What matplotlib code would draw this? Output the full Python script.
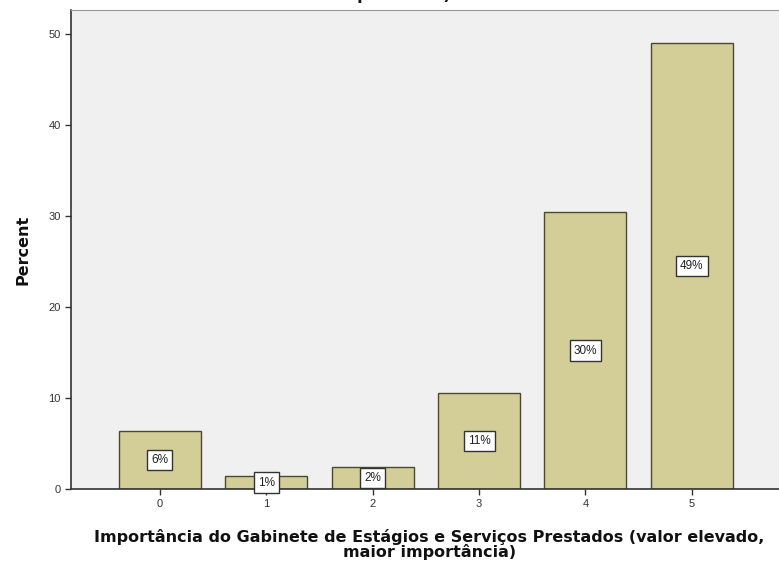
import matplotlib
matplotlib.use("Agg")
import matplotlib.pyplot as plt

categories = ["0", "1", "2", "3", "4", "5"]
percents = [6.4, 1.4, 2.4, 10.5, 30.4, 49.0]
labels = ["6%", "1%", "2%", "11%", "30%", "49%"]
yticks = [0, 10, 20, 30, 40, 50]

plt.rcParams['font.family'] = ['Liberation Sans', 'DejaVu Sans']
bold_family = ['DejaVu Sans']

fig = plt.figure(figsize=(7.79, 5.64), dpi=100)
ax = fig.add_axes([0.0911, 0.133, 0.92, 0.849])
ax.set_facecolor('#F0F0F0')
x = list(range(len(categories)))
ax.bar(x, percents, width=0.77, color='#D3CE97', edgecolor='#4a4a30', linewidth=1.0, zorder=2)
for xi, p, lab in zip(x, percents, labels):
    ax.text(xi, p / 2, lab, ha='center', va='center', fontsize=8.5, zorder=3, color='#222222',
            bbox=dict(boxstyle='square,pad=0.35', facecolor='white', edgecolor='#333333', linewidth=1.0))
ax.set_xlim(-0.835, 5.9)
ax.set_ylim(0, 52.6)
ax.set_xticks(x)
ax.set_xticklabels(categories, fontsize=8, color='#333333')
ax.set_yticks(yticks)
ax.set_yticklabels([str(t) for t in yticks], fontsize=8, color='#333333')
ax.tick_params(axis='both', direction='out', length=4, width=1, color='#333333')
for s in ['left', 'bottom']:
    ax.spines[s].set_color('#333333')
    ax.spines[s].set_linewidth(1.2)
ax.spines['top'].set_color('#999999')
ax.spines['right'].set_visible(False)
ax.set_ylabel('Percent', fontsize=11.5, fontweight='bold', family=bold_family, labelpad=13, color='#111111')
ax.set_xlabel('Importância do Gabinete de Estágios e Serviços Prestados (valor elevado,\nmaior importância)',
              fontsize=11.5, fontweight='bold', family=bold_family, linespacing=0.95, labelpad=14, color='#111111')
fig.text(0.505, 1.008, 'importância)', ha='center', va='center', fontsize=11.5, fontweight='bold',
         family=bold_family, color='#111111')
fig.savefig('out.png', dpi=100, facecolor='white')
